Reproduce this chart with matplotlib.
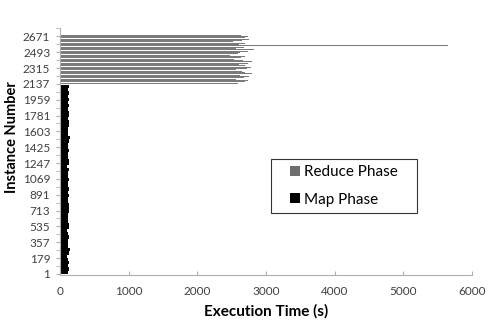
import matplotlib
matplotlib.use('Agg')
import matplotlib.pyplot as plt
import numpy as np
from matplotlib.lines import Line2D

plt.rcParams['font.family'] = ['Lato', 'DejaVu Sans']

# map phase: execution time (s) per block of 36 instances, starting at instance 1
map_block = 36
map_times = [118, 125, 110, 132, 120, 105, 128, 140, 115, 122,
             112, 130, 119, 108, 126, 135, 117, 121, 111, 129,
             124, 138, 114, 120, 127, 109, 131, 118, 123, 136,
             113, 120, 128, 107, 125, 133, 116, 122, 130, 112,
             119, 127, 139, 115, 121, 110, 126, 134, 118, 124,
             129, 113, 137, 120, 125, 117, 131, 122, 128]

# reduce phase: execution time (s) per block of 15 instances, starting at 2138
reduce_start = 2138
reduce_block = 15
reduce_times = [2590, 2700, 2740, 2560, 2680, 2760, 2620, 2790, 2700, 2650,
                2560, 2720, 2780, 2690, 2610, 2740, 2800, 2660, 2530, 2640,
                2700, 2480, 2590, 2620, 2740, 2820, 2560, 2680,
                5650,
                2610, 2700, 2520, 2650, 2760, 2690, 2740, 2640]

ytick_labels = [1, 179, 357, 535, 713, 891, 1069, 1247, 1425, 1603,
                1781, 1959, 2137, 2315, 2493, 2671]
xticks = [0, 1000, 2000, 3000, 4000, 5000, 6000]

map_y = 1 + map_block * np.arange(len(map_times))
reduce_y = reduce_start + reduce_block * np.arange(len(reduce_times))

fig = plt.figure(figsize=(4.88, 3.2), dpi=100)
ax = fig.add_axes([0.123, 0.141, 0.844, 0.770])

ax.barh(map_y, map_times, height=map_block, align='edge', color='black', linewidth=0)
ax.barh(reduce_y, reduce_times, height=reduce_block * 0.75, align='edge',
        color='#7a7a7a', linewidth=0)

ax.set_xlim(0, 6000)
ax.set_ylim(-10, 2700)
ax.set_xticks(xticks)
ax.set_yticks(ytick_labels)
ax.set_yticks([v + 89 for v in ytick_labels], minor=True)

for s in ['top', 'right']:
    ax.spines[s].set_visible(False)
for s in ['left', 'bottom']:
    ax.spines[s].set_color('#b0b0b0')
    ax.spines[s].set_linewidth(0.8)

ax.tick_params(axis='y', which='both', direction='out', length=3, color='#b0b0b0',
               labelsize=8.5, pad=4, labelcolor='#404040')
ax.tick_params(axis='x', direction='in', length=3, color='#b0b0b0',
               labelsize=8.5, pad=8, labelcolor='#404040')

ax.set_xlabel('Execution Time (s)', fontsize=11, fontweight='bold', labelpad=5)
ax.set_ylabel('Instance Number', fontsize=10.5, fontweight='bold')
ax.yaxis.set_label_coords(-0.10, 0.56)

# legend: square markers, box stretched to the reference width
handles = [Line2D([], [], linestyle='', marker='s', markersize=6.5,
                  markerfacecolor='#6e6e6e', markeredgewidth=0, label='Reduce Phase'),
           Line2D([], [], linestyle='', marker='s', markersize=6.5,
                  markerfacecolor='black', markeredgewidth=0, label='Map Phase')]
leg = ax.legend(handles=handles, loc='upper left',
                bbox_to_anchor=(0.512, 0.0, 0.354, 0.471), mode='expand',
                borderaxespad=0, fontsize=11, frameon=True, fancybox=False,
                handlelength=2.4, handletextpad=-0.64,
                borderpad=0.4, labelspacing=0.9)
leg.get_frame().set_edgecolor('black')
leg.get_frame().set_linewidth(0.8)

fig.savefig('out.png', dpi=100)
